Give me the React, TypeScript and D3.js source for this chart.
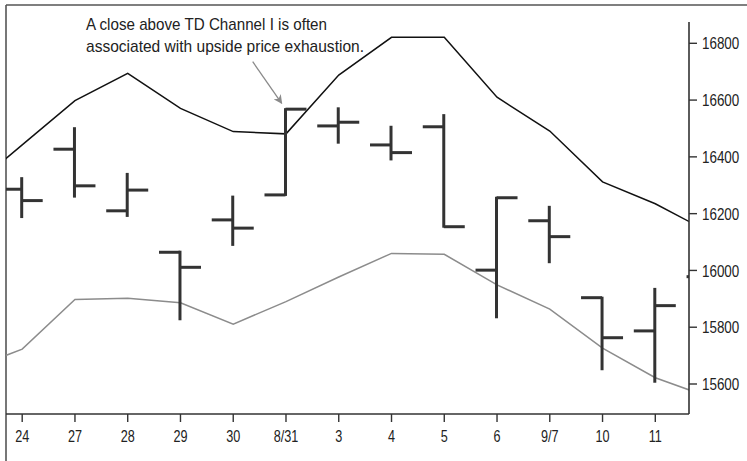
import React from "react";
import * as d3 from "d3";

const dateLabels = ["24", "27", "28", "29", "30", "8/31", "3", "4", "5", "6", "9/7", "10", "11"];
const yTicks = [15600, 15800, 16000, 16200, 16400, 16600, 16800];

// OHLC bars, index 0..13 (index 13 is the partially visible next bar)
const opens = [16286, 16427, 16210, 16064, 16178, 16266, 16509, 16442, 16506, 16001, 16175, 15904, 15787, 15978];
const highs = [16325, 16501, 16340, 16066, 16260, 16568, 16571, 16506, 16547, 16256, 16224, 15904, 15935, 16000];
const lows = [16188, 16260, 16192, 15828, 16090, 16266, 16450, 16391, 16154, 15835, 16029, 15652, 15608, 15900];
const closes = [16246, 16298, 16283, 16011, 16149, 16568, 16522, 16415, 16154, 16256, 16119, 15763, 15876, 15950];

// TD Channel lines, index -1..13
const channelStart = -1;
const upperChannel = [16286, 16442, 16598, 16694, 16571, 16489, 16481, 16688, 16821, 16821, 16610, 16491, 16312, 16235, 16137];
const lowerChannel = [15651, 15723, 15898, 15902, 15886, 15811, 15890, 15977, 16060, 16057, 15949, 15864, 15726, 15622, 15555];

const annotationLines = ["A close above TD Channel I is often", "associated with upside price exhaustion."];
const annotationWidths = [241, 278];

const W = 747;
const H = 461;
const plotLeft = 6;
const plotRight = 689;
const plotTop = 5;
const plotBottom = 414;
const axisTop = 22;
const FONT = "'Liberation Sans', Arial, Helvetica, sans-serif";
const SQUEEZE = 0.79;

export default function App() {
  const x = d3.scaleLinear().domain([0, 12]).range([22.2, 655.3]);
  const y = d3.scaleLinear().domain([15600, 16800]).range([384, 43.3]);
  const tickLen = 21;
  const barColor = "#333";

  const line = d3
    .line<number>()
    .x((_, i) => x(i + channelStart))
    .y((v) => y(v));

  return (
    <svg width={W} height={H} style={{ position: "absolute", left: 0, top: 0, background: "#fff" }}>
      <defs>
        <clipPath id="plotClip">
          <rect x={plotLeft} y={plotTop} width={plotRight - plotLeft} height={plotBottom - plotTop} />
        </clipPath>
        <marker id="arrowHead" viewBox="0 0 10 10" refX="9" refY="5" markerWidth="10" markerHeight="9" markerUnits="userSpaceOnUse" orient="auto">
          <path d="M0,0 L10,5 L0,10 L3,5 Z" fill="#8a8a8a" />
        </marker>
      </defs>
      <rect x={0} y={0} width={W} height={H} fill="#fff" />
      {/* frame */}
      <line x1={plotLeft} y1={plotTop} x2={W} y2={plotTop} stroke="#555" strokeWidth={1.6} />
      <line x1={plotLeft} y1={plotTop} x2={plotLeft} y2={H} stroke="#555" strokeWidth={1.6} />

      <g clipPath="url(#plotClip)">
        <path d={line(lowerChannel) || ""} fill="none" stroke="#8c8c8c" strokeWidth={1.5} />
        <path d={line(upperChannel) || ""} fill="none" stroke="#111" strokeWidth={1.5} />
        {opens.map((o, i) => {
          const cx = x(i) - 0.5;
          return (
            <g key={i} stroke={barColor} strokeWidth={3} strokeLinecap="butt">
              <line x1={cx} y1={y(highs[i]) - 1} x2={cx} y2={y(lows[i]) + 1} />
              <line x1={cx - tickLen} y1={y(o)} x2={cx} y2={y(o)} />
              <line x1={cx} y1={y(closes[i])} x2={cx + tickLen} y2={y(closes[i])} />
            </g>
          );
        })}
      </g>

      {/* right axis */}
      <line x1={plotRight} y1={axisTop} x2={plotRight} y2={plotBottom} stroke="#333" strokeWidth={1.6} />
      {yTicks.map((t) => (
        <g key={t}>
          <line x1={plotRight} y1={y(t)} x2={plotRight + 8} y2={y(t)} stroke="#333" strokeWidth={1.4} />
          <text
            transform={`translate(${plotRight + 13},${y(t)}) scale(${SQUEEZE},1)`}
            dy="0.36em"
            fontFamily={FONT}
            fontSize={17}
            fill="#222"
          >
            {t}
          </text>
        </g>
      ))}

      {/* bottom axis */}
      <line x1={plotLeft} y1={plotBottom} x2={plotRight} y2={plotBottom} stroke="#333" strokeWidth={1.6} />
      {dateLabels.map((d, i) => (
        <g key={d}>
          <line x1={x(i)} y1={plotBottom} x2={x(i)} y2={plotBottom + 8} stroke="#333" strokeWidth={1.4} />
          <text
            transform={`translate(${x(i)},442) scale(${SQUEEZE},1)`}
            textAnchor="middle"
            fontFamily={FONT}
            fontSize={16}
            fill="#222"
          >
            {d}
          </text>
        </g>
      ))}

      {/* annotation */}
      {annotationLines.map((s, i) => (
        <text
          key={i}
          x={86}
          y={29.5 + i * 22.2}
          fontFamily={FONT}
          fontSize={17}
          fill="#222"
          textLength={annotationWidths[i]}
          lengthAdjust="spacingAndGlyphs"
        >
          {s}
        </text>
      ))}
      <line x1={252.7} y1={61.7} x2={281.7} y2={103.3} stroke="#8a8a8a" strokeWidth={1.3} markerEnd="url(#arrowHead)" />
    </svg>
  );
}
